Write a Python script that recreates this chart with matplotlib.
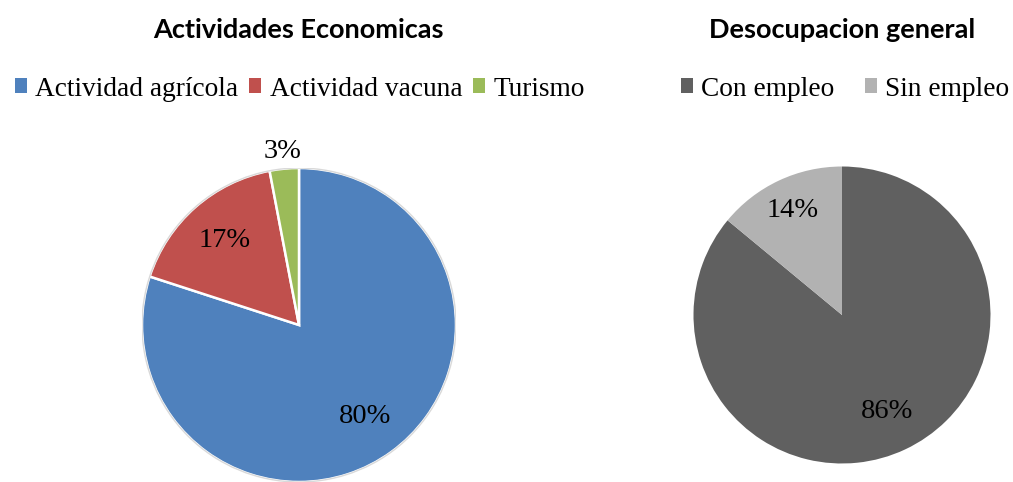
import matplotlib
matplotlib.use("Agg")
import matplotlib.pyplot as plt
from matplotlib.patches import Patch, Circle

# Datos
actividades = ["Actividad agrícola", "Actividad vacuna", "Turismo"]
act_valores = [80, 17, 3]
act_colores = ["#4F81BD", "#C0504D", "#9BBB59"]

empleo = ["Con empleo", "Sin empleo"]
emp_valores = [86, 14]
emp_colores = ["#606060", "#B2B2B2"]

W, H = 1013, 482
fig = plt.figure(figsize=(W / 100, H / 100), dpi=100)

serif = ["Liberation Serif", "DejaVu Serif"]
titlefont = ["Lato", "DejaVu Sans"]


def pie_axes(cx, cy, r):
    # cx, cy, r en pixeles (y desde arriba)
    return fig.add_axes([(cx - r) / W, (H - cy - r) / H, 2 * r / W, 2 * r / H])


# Pie izquierdo
ax1 = pie_axes(299, 325, 157)
w1, t1, a1 = ax1.pie(act_valores, colors=act_colores, startangle=90, counterclock=False,
                     autopct="%d%%", pctdistance=0.72, labels=None,
                     wedgeprops=dict(edgecolor="white", linewidth=1.8),
                     textprops=dict(fontsize=20.5, family=serif, color="black"))
a1[2].set_position((a1[2].get_position()[0] / 0.72 * 1.11, a1[2].get_position()[1] / 0.72 * 1.11))
ax1.add_patch(Circle((0, 0), 1.0, fill=False, edgecolor="#D9D9D9", linewidth=1.0))
ax1.set_xlim(-1, 1)
ax1.set_ylim(-1, 1)
ax1.set_aspect("equal")
ax1.axis("off")
for w in w1:
    w.set_clip_on(False)

# Pie derecho
ax2 = pie_axes(842, 315, 148.5)
w2, t2, a2 = ax2.pie(emp_valores, colors=emp_colores, startangle=90, counterclock=False,
                     autopct="%d%%", pctdistance=0.72, labels=None,
                     textprops=dict(fontsize=20.5, family=serif, color="black"))
a2[1].set_position((a2[1].get_position()[0] / 0.72 * 0.78, a2[1].get_position()[1] / 0.72 * 0.78))
ax2.set_xlim(-1, 1)
ax2.set_ylim(-1, 1)
ax2.set_aspect("equal")
ax2.axis("off")

# Titulos
fig.text(298 / W, 1 - 30 / H, "Actividades Economicas", ha="center", va="center",
         fontsize=19.5, fontweight="bold", family=titlefont)
fig.text(842 / W, 1 - 30 / H, "Desocupacion general", ha="center", va="center",
         fontsize=19.5, fontweight="bold", family=titlefont)

# Leyendas
leg_kw = dict(loc="center", frameon=False, handlelength=0.44, handleheight=0.44,
              handletextpad=0.3, borderpad=0, prop=dict(family=serif, size=19.7))
h1 = [Patch(facecolor=c, edgecolor="none") for c in act_colores]
fig.legend(h1, actividades, bbox_to_anchor=(300 / W, 1 - 89 / H), ncol=3,
           columnspacing=0.4, **leg_kw)
h2 = [Patch(facecolor=c, edgecolor="none") for c in emp_colores]
fig.legend(h2, empleo, bbox_to_anchor=(845 / W, 1 - 89 / H), ncol=2,
           columnspacing=1.1, **leg_kw)

fig.savefig("out.png", dpi=100)
